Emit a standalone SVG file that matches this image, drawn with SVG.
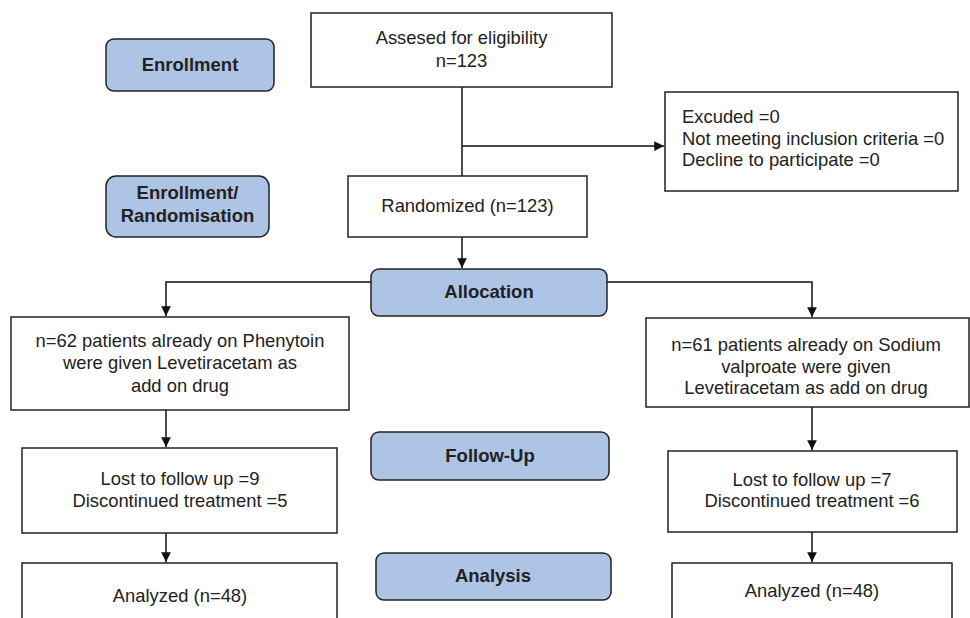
<svg xmlns="http://www.w3.org/2000/svg" width="970" height="618" viewBox="0 0 970 618">
<style>
  .box { fill: #ffffff; stroke: #222222; stroke-width: 1.5; }
  .stage { fill: #aec4e5; stroke: #222222; stroke-width: 1.5; }
  .t { font-family: "Liberation Sans", Arial, sans-serif; font-size: 18.4px; fill: #222222; }
  .c { text-anchor: middle; }
  .b { font-weight: bold; font-size: 18.5px; }
  .conn { fill: none; stroke: #111111; stroke-width: 1.5; }
</style>
<defs>
  <marker id="arr" viewBox="0 0 10 10" refX="10" refY="5" markerWidth="6.5" markerHeight="6.5" orient="auto" markerUnits="strokeWidth">
    <path d="M0,0 L10,5 L0,10 Z" fill="#111111"/>
  </marker>
</defs>
<rect width="970" height="618" fill="#ffffff"/>

<g id="connectors">
  <path class="conn" d="M462,87 V176"/>
  <path class="conn" d="M462,146 H664" marker-end="url(#arr)"/>
  <path class="conn" d="M462,237 V268" marker-end="url(#arr)"/>
  <path class="conn" d="M371,282 H166 V316" marker-end="url(#arr)"/>
  <path class="conn" d="M607,282 H812 V317" marker-end="url(#arr)"/>
  <path class="conn" d="M166,410 V447" marker-end="url(#arr)"/>
  <path class="conn" d="M812,407 V450" marker-end="url(#arr)"/>
  <path class="conn" d="M166,533 V562" marker-end="url(#arr)"/>
  <path class="conn" d="M812,532 V562" marker-end="url(#arr)"/>
</g>

<g id="stage-enrollment">
  <rect class="stage" x="106" y="39" width="168" height="52" rx="8"/>
  <text class="t c b" x="190" y="71">Enrollment</text>
</g>
<g id="stage-randomisation">
  <rect class="stage" x="106" y="176" width="163" height="61" rx="10"/>
  <text class="t c b" x="187.5" y="199">Enrollment/</text>
  <text class="t c b" x="187.5" y="222">Randomisation</text>
</g>
<g id="stage-allocation">
  <rect class="stage" x="371" y="269" width="236" height="47" rx="8"/>
  <text class="t c b" x="489" y="298">Allocation</text>
</g>
<g id="stage-followup">
  <rect class="stage" x="371" y="432" width="238" height="48" rx="8"/>
  <text class="t c b" x="490" y="462">Follow-Up</text>
</g>
<g id="stage-analysis">
  <rect class="stage" x="376" y="553" width="235" height="47" rx="8"/>
  <text class="t c b" x="493" y="582">Analysis</text>
</g>

<g id="assessed">
  <rect class="box" x="311" y="13" width="301" height="74"/>
  <text class="t c" x="461.5" y="44">Assesed for eligibility</text>
  <text class="t c" x="461.5" y="67">n=123</text>
</g>
<g id="excluded">
  <rect class="box" x="665" y="92" width="293" height="99"/>
  <text class="t" x="682" y="123">Excuded =0</text>
  <text class="t" x="682" y="145">Not meeting inclusion criteria =0</text>
  <text class="t" x="682" y="166">Decline to participate =0</text>
</g>
<g id="randomized">
  <rect class="box" x="348" y="176" width="239" height="61"/>
  <text class="t c" x="467.5" y="212">Randomized (n=123)</text>
</g>
<g id="phenytoin">
  <rect class="box" x="11" y="317" width="338" height="93"/>
  <text class="t c" x="180" y="347">n=62 patients already on Phenytoin</text>
  <text class="t c" x="180" y="369">were given Levetiracetam as</text>
  <text class="t c" x="180" y="392">add on drug</text>
</g>
<g id="valproate">
  <rect class="box" x="646" y="318" width="323" height="89"/>
  <text class="t c" x="806" y="351">n=61 patients already on Sodium</text>
  <text class="t c" x="806" y="373">valproate were given</text>
  <text class="t c" x="806" y="394">Levetiracetam as add on drug</text>
</g>
<g id="lost-left">
  <rect class="box" x="22" y="448" width="315" height="85"/>
  <text class="t c" x="180" y="485">Lost to follow up =9</text>
  <text class="t c" x="180" y="507">Discontinued treatment =5</text>
</g>
<g id="lost-right">
  <rect class="box" x="668" y="451" width="289" height="81"/>
  <text class="t c" x="812" y="486">Lost to follow up =7</text>
  <text class="t c" x="812" y="507">Discontinued treatment =6</text>
</g>
<g id="analyzed-left">
  <rect class="box" x="22" y="563" width="315" height="70"/>
  <text class="t c" x="180" y="602">Analyzed (n=48)</text>
</g>
<g id="analyzed-right">
  <rect class="box" x="672" y="563" width="280" height="70"/>
  <text class="t c" x="812" y="597">Analyzed (n=48)</text>
</g>
</svg>
